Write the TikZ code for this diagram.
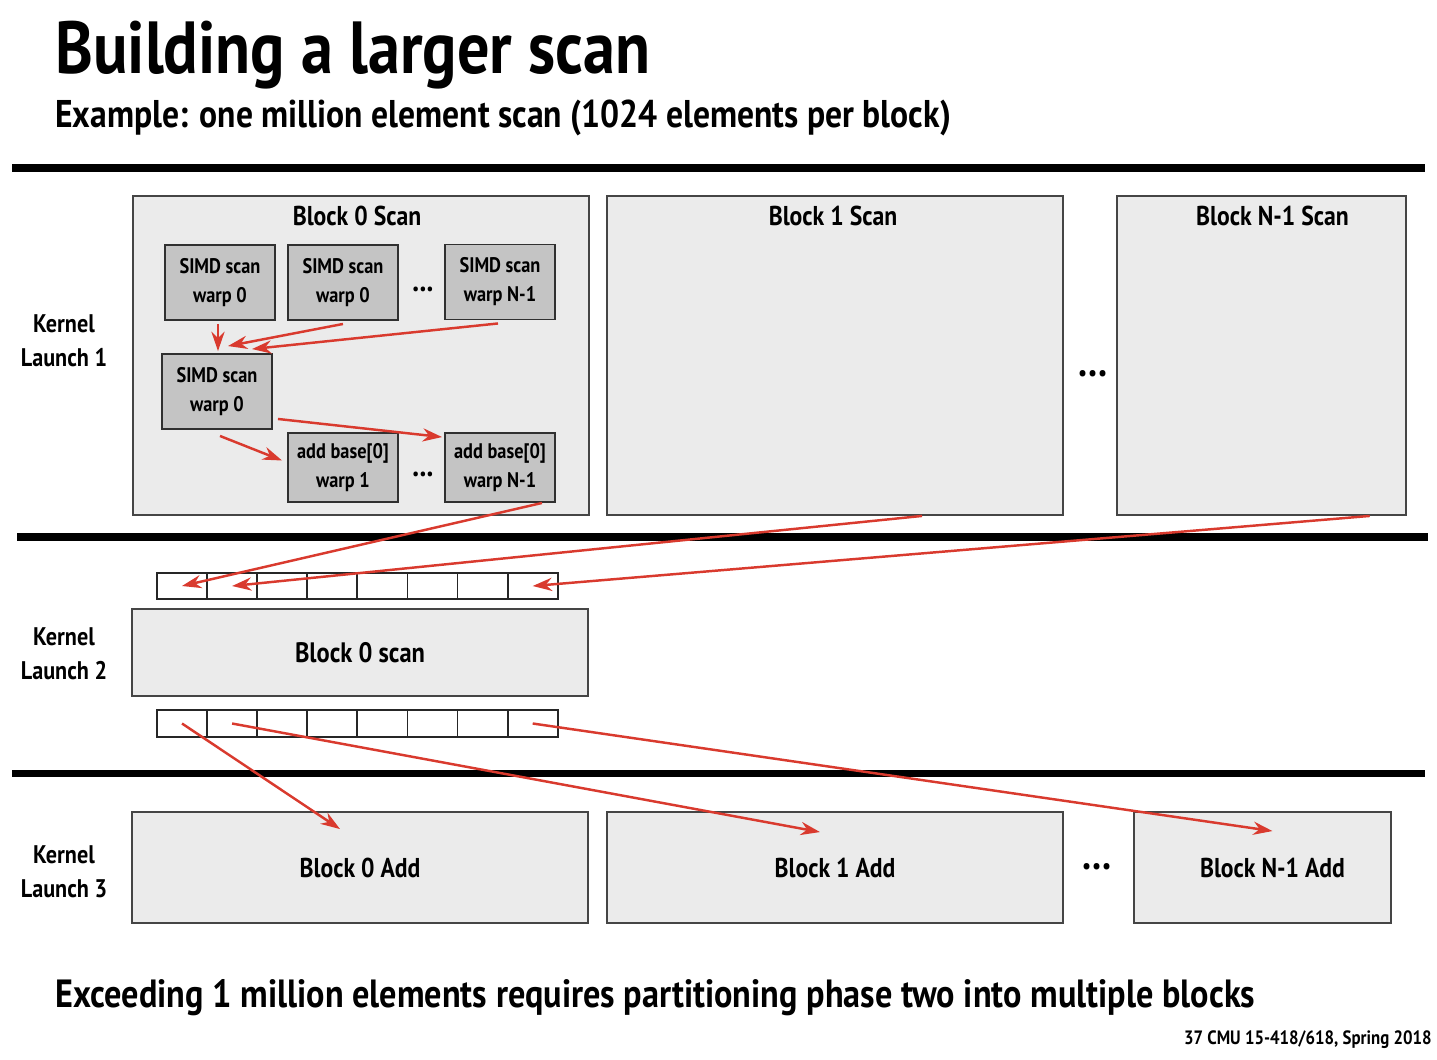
\documentclass[tikz,border=0pt]{standalone}
\usepackage{fontspec}
\setmainfont{PT Sans}[BoldFont={PT Sans Bold}, FakeStretch=0.87]
\usetikzlibrary{arrows.meta}
\usetikzlibrary{calc}
\usetikzlibrary{positioning}
\definecolor{rojo}{HTML}{D93A2E}
\definecolor{fondo}{HTML}{EBEBEB}
\definecolor{oscuro}{HTML}{C4C4C4}
\definecolor{borde}{HTML}{454545}

\begin{document}
\begin{tikzpicture}[
        x=0.02cm, y=-0.02cm, % Unidades en pixeles de la imagen
        font=\bfseries,
        bloque/.style={draw=borde, line width=1.1pt, fill=fondo, inner sep=0pt}, % Bloques grandes
        warp/.style={draw=borde!70!black, line width=1.1pt, fill=oscuro, minimum width=2.2cm,
            minimum height=1.5cm, align=center, inner sep=0pt,
            font=\bfseries\fontsize{12}{16.5}\selectfont}, % Cajas de warps
        celda/.style={draw=black!85, line width=1pt, fill=white, minimum width=1.002cm,
            minimum height=0.53cm, inner sep=0pt}, % Celdas del arreglo
        flecha/.style={-{Stealth[length=11pt, width=7.5pt]}, draw=rojo, line width=1.4pt}, % Flechas rojas
        separador/.style={line width=4pt}, % Lineas negras gruesas
        etiqueta/.style={font=\bfseries\fontsize{15.5}{18}\selectfont},
        kernel/.style={align=center, font=\bfseries\fontsize{14.5}{19.4}\selectfont},
        puntos/.style={anchor=base, font=\bfseries\fontsize{24}{24}\selectfont}
    ]
        \useasboundingbox (0,0) rectangle (1437,1059);

        % --- Titulos ---
        \node[anchor=base west, inner sep=0pt, font=\bfseries\fontsize{42}{46}\selectfont] (titulo) at (55,73) {Building a larger scan};
        \node[anchor=base west, inner sep=0pt, font=\bfseries\fontsize{22}{26}\selectfont] (subtitulo) at (55,127) {Example: one million element scan (1024 elements per block)};

        % --- Separadores ---
        \draw[separador] (12,168) -- (1425,168);
        \draw[separador] (17,537) -- (1428,537);
        \draw[separador] (12,773) -- (1425,773);

        % --- Kernel Launch 1 ---
        \node[kernel] (k1) at (64,341) {Kernel\\Launch 1};
        \node[bloque, minimum width=9.12cm, minimum height=6.38cm] (b0s) at (361,355.5) {};
        \node[bloque, minimum width=9.12cm, minimum height=6.38cm] (b1s) at (835,355.5) {};
        \node[bloque, minimum width=5.78cm, minimum height=6.38cm] (bNs) at (1261.5,355.5) {};
        \node[etiqueta] (t0s) at ($(b0s.north)+(-4,21)$) {Block 0 Scan};
        \node[etiqueta] (t1s) at ($(b1s.north)+(-2,21)$) {Block 1 Scan};
        \node[etiqueta] (tNs) at ($(bNs.north)+(11,21)$) {Block N-1 Scan};
        \node[puntos] (p1) at (1093,376) {...};

        % Warps dentro del bloque 0
        \node[warp] (w0) at (220,282.5) {SIMD scan\\warp 0};
        \node[warp] (w1) at (343,282.5) {SIMD scan\\warp 0};
        \node[warp] (wN) at (500,282) {SIMD scan\\warp N-1};
        \node[warp] (wS) at (217,391.5) {SIMD scan\\warp 0};
        \node[warp, minimum height=1.38cm] (a1) at (343,467.5) {add base[0]\\warp 1};
        \node[warp, minimum height=1.38cm] (aN) at (500,467.5) {add base[0]\\warp N-1};
        \node[puntos, font=\bfseries\fontsize{18}{18}\selectfont] (p2) at (423,291) {...};
        \node[puntos, font=\bfseries\fontsize{18}{18}\selectfont] (p3) at (423,476) {...};

        \draw[flecha] ($(w0.south)+(-2,3)$) -- ($(wS.north)+(1,-2)$);
        \draw[flecha] ($(w1.south)+(0,3)$) -- ($(wS.north)+(11,-7)$);
        \draw[flecha] ($(wN.south)+(-2,3)$) -- ($(wS.north)+(35,-4)$);
        \draw[flecha] ($(wS.south east)+(5,-11)$) -- ($(aN.north west)+(-2,5)$);
        \draw[flecha] ($(wS.south)+(3,6)$) -- ($(a1.west)+(-5,-7)$);

        % --- Kernel Launch 2 ---
        \node[kernel] (k2) at (64,654) {Kernel\\Launch 2};
        \foreach \i in {0,...,7} {
            \node[celda] (arr\i) at ({182+50.1*\i},586) {};
            \node[celda] (abj\i) at ({182+50.1*\i},723.5) {};
        }
        \node[bloque, minimum width=9.12cm, minimum height=1.74cm, etiqueta] (b0l2) at (360,652.5) {\fontsize{16}{18}\selectfont Block 0 scan};

        \draw[flecha] ($(aN.south east)+(-14,0)$) -- (arr0.center);
        \draw[flecha] ($(b1s.south west)!0.69!(b1s.south east)$) -- (arr1.center);
        \draw[flecha] ($(bNs.south west)!0.872!(bNs.south east)$) -- (arr7.center);

        % --- Kernel Launch 3 ---
        \node[kernel] (k3) at (64,872) {Kernel\\Launch 3};
        \node[bloque, minimum width=9.12cm, minimum height=2.22cm] (b0a) at (360,867.5) {\fontsize{15.5}{18}\selectfont Block 0 Add};
        \node[bloque, minimum width=9.12cm, minimum height=2.22cm] (b1a) at (835,867.5) {\fontsize{15.5}{18}\selectfont Block 1 Add};
        \node[bloque, minimum width=5.14cm, minimum height=2.22cm] (bNa) at (1262.5,867.5) {\fontsize{15.5}{18}\selectfont\hspace*{0.4cm}Block N-1 Add};
        \node[puntos] (p4) at (1097,869) {...};

        \draw[flecha] (abj0.center) -- ($(b0a.north)+(-20,18)$);
        \draw[flecha] (abj1.center) -- ($(b1a.north)+(-15,21)$);
        \draw[flecha] (abj7.center) -- ($(bNa.north)+(10,20)$);

        % --- Texto inferior ---
        \node[anchor=base west, inner sep=0pt, font=\bfseries\fontsize{22.4}{26}\selectfont] (nota) at (55,1007) {Exceeding 1 million elements requires partitioning phase two into multiple blocks};
        \node[anchor=base east, inner sep=0pt, font=\bfseries\fontsize{11}{13}\selectfont] (pie) at (1432,1044) {37 CMU 15-418/618, Spring 2018};

    \end{tikzpicture}
\end{document}
